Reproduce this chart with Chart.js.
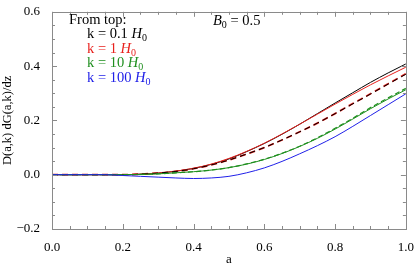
<!DOCTYPE html>
<html>
<head>
<meta charset="utf-8">
<script src="https://cdn.jsdelivr.net/npm/chart.js@4"></script>
<style>
  html, body { margin: 0; padding: 0; background: #fff; }
  #wrap { width: 417px; height: 267px; }
</style>
</head>
<body>
<div id="wrap"><canvas id="chart" width="417" height="267"></canvas></div>
<script>
// scale factor a
const aValues = [0, 0.05, 0.1, 0.15, 0.2, 0.25, 0.3, 0.35, 0.4, 0.45, 0.5,
                 0.55, 0.6, 0.65, 0.7, 0.75, 0.8, 0.85, 0.9, 0.95, 1.0];

// solid curves
const k01 = [0, 0, 0, 0, 0, 0.002, 0.006, 0.013, 0.023, 0.038, 0.058,
             0.085, 0.115, 0.149, 0.186, 0.225, 0.264, 0.302, 0.340, 0.375, 0.408];
const k1 = [0, 0, 0, 0, 0, 0.002, 0.006, 0.013, 0.024, 0.039, 0.060,
            0.086, 0.116, 0.150, 0.186, 0.223, 0.260, 0.296, 0.331, 0.364, 0.396];
const k10 = [0, 0, 0, 0, 0, 0.001, 0.003, 0.007, 0.011, 0.017, 0.026,
             0.039, 0.056, 0.078, 0.104, 0.134, 0.168, 0.205, 0.243, 0.279, 0.313];
const k100 = [0, 0, 0, 0, -0.003, -0.006, -0.009, -0.012, -0.014, -0.012, -0.006,
              0.007, 0.025, 0.049, 0.077, 0.107, 0.140, 0.178, 0.218, 0.258, 0.298];

// dashed curves
const k01Dash = [0, 0, 0, 0, 0, 0.002, 0.006, 0.012, 0.022, 0.036, 0.054,
                 0.076, 0.100, 0.128, 0.158, 0.190, 0.225, 0.261, 0.297, 0.334, 0.370];
const k1Dash = [0, 0, 0, 0, 0, 0.002, 0.006, 0.012, 0.022, 0.036, 0.054,
                0.076, 0.100, 0.128, 0.158, 0.190, 0.225, 0.262, 0.298, 0.335, 0.372];
const k10Dash = [0, 0, 0, 0, 0, 0.001, 0.003, 0.007, 0.011, 0.017, 0.026,
                 0.040, 0.057, 0.079, 0.105, 0.136, 0.171, 0.208, 0.247, 0.283, 0.318];

const xTicks = [0, 0.2, 0.4, 0.6, 0.8, 1.0];
const yTicks = [-0.2, 0, 0.2, 0.4, 0.6];

const legendLines = [
    { text: "k = 0.1 ", color: "#000000" },
    { text: "k = 1 ", color: "#e8201c" },
    { text: "k = 10 ", color: "#1f8f1f" },
    { text: "k = 100 ", color: "#2020e8" }
];

const serif = "'Liberation Serif', 'DejaVu Serif', serif";
const frameColor = "#8a8a8a";

function pts(ys) {
    return aValues.map((a, i) => ({ x: a, y: ys[i] }));
}

function line(data, color, dash, offset, width) {
    return {
        data: pts(data),
        borderColor: color,
        borderWidth: width || 1,
        borderDash: dash || [],
        borderDashOffset: offset || 0,
        pointRadius: 0,
        cubicInterpolationMode: 'monotone',
        fill: false
    };
}

// frame on top/right and inward ticks, plus the in-plot text
const framePlugin = {
    id: 'frame',
    afterDraw(chart) {
        const ctx = chart.ctx;
        const area = chart.chartArea;
        const xs = chart.scales.x;
        const ys = chart.scales.y;
        ctx.save();
        ctx.strokeStyle = frameColor;
        ctx.lineWidth = 1;
        ctx.strokeRect(Math.round(area.left) + 0.5, Math.round(area.top) + 0.5,
                       Math.round(area.right - area.left), Math.round(area.bottom - area.top));
        ctx.beginPath();
        for (let i = 0; i <= 20; i++) {
            const v = i * 0.05;
            const px = Math.round(xs.getPixelForValue(v)) + 0.5;
            const len = (i % 4 === 0) ? 5 : 3;
            ctx.moveTo(px, area.bottom); ctx.lineTo(px, area.bottom - len);
            ctx.moveTo(px, area.top); ctx.lineTo(px, area.top + len);
        }
        for (let i = 0; i <= 16; i++) {
            const v = -0.2 + i * 0.05;
            const py = Math.round(ys.getPixelForValue(v)) + 0.5;
            const len = (i % 4 === 0) ? 5 : 3;
            ctx.moveTo(area.left, py); ctx.lineTo(area.left + len, py);
            ctx.moveTo(area.right, py); ctx.lineTo(area.right - len, py);
        }
        ctx.stroke();

        // legend text
        ctx.textBaseline = 'alphabetic';
        ctx.font = "14.5px " + serif;
        ctx.fillStyle = "#000";
        ctx.fillText("From top:", 69, 24);
        legendLines.forEach((l, i) => {
            const y = 38 + i * 14.5;
            ctx.fillStyle = l.color;
            ctx.font = "14.5px " + serif;
            ctx.fillText(l.text, 87, y);
            let w = ctx.measureText(l.text).width;
            ctx.font = "italic 14.5px " + serif;
            ctx.fillText("H", 87 + w, y);
            w += ctx.measureText("H").width;
            ctx.font = "10px " + serif;
            ctx.fillText("0", 87 + w, y + 3);
        });

        // B0 label
        ctx.fillStyle = "#000";
        ctx.font = "italic 14.5px " + serif;
        ctx.fillText("B", 213, 25);
        let bw = ctx.measureText("B").width;
        ctx.font = "10px " + serif;
        ctx.fillText("0", 213 + bw, 28);
        bw += ctx.measureText("0").width;
        ctx.font = "14.5px " + serif;
        ctx.fillText(" = 0.5", 213 + bw, 25);
        ctx.restore();
    }
};

new Chart(document.getElementById('chart'), {
    type: 'line',
    data: {
        datasets: [
            line(k100, "#2020e8"),
            line(k10Dash, "#1f8f1f", [5, 3], 0, 1.2),
            line(k10, "#1f8f1f"),
            line(k01Dash, "#000000", [6, 4], 0, 1),
            line(k1Dash, "#e8201c", [6, 4], 0, 1.8),
            line(k1, "#e8201c"),
            line(k01, "#000000")
        ]
    },
    options: {
        responsive: false,
        animation: false,
        layout: { padding: { left: 0, right: 8, top: 8, bottom: 0 } },
        plugins: { legend: { display: false }, tooltip: { enabled: false } },
        scales: {
            x: {
                type: 'linear',
                min: 0,
                max: 1,
                afterFit: (s) => { s.height = 38; },
                afterBuildTicks: (s) => { s.ticks = xTicks.map(v => ({ value: v })); },
                grid: { display: false },
                border: { display: false },
                ticks: {
                    color: "#000",
                    font: { family: serif, size: 13 },
                    padding: 3,
                    maxRotation: 0,
                    callback: (v) => v.toFixed(1)
                },
                title: {
                    display: true,
                    text: "a",
                    color: "#000",
                    font: { family: serif, size: 13 },
                    padding: { top: 3, bottom: 0 }
                }
            },
            y: {
                min: -0.2,
                max: 0.6,
                afterFit: (s) => { s.width = 52; },
                afterBuildTicks: (s) => { s.ticks = yTicks.map(v => ({ value: v })); },
                grid: { display: false },
                border: { display: false },
                ticks: {
                    color: "#000",
                    font: { family: serif, size: 13 },
                    padding: 4,
                    callback: (v) => v.toFixed(1).replace('-', '\u2212')
                },
                title: {
                    display: true,
                    text: "D(a,k) dG(a,k)/dz",
                    color: "#000",
                    font: { family: serif, size: 12.5 },
                    padding: { top: 0, bottom: 1 }
                }
            }
        }
    },
    plugins: [framePlugin]
});
</script>
</body>
</html>
